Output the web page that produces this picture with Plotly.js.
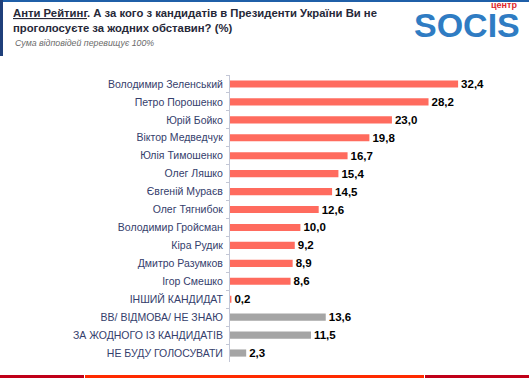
<!DOCTYPE html>
<html><head><meta charset="utf-8">
<script src="https://cdn.plot.ly/plotly-3.0.1.min.js"></script>
<style>html,body{margin:0;padding:0;background:#fff}#c{width:529px;height:378px}</style>
</head><body><div id="c"></div>
<script>
const categories = ["Володимир Зеленський","Петро Порошенко","Юрій Бойко","Віктор Медведчук","Юлія Тимошенко","Олег Ляшко","Євгеній Мураєв","Олег Тягнибок","Володимир Гройсман","Кіра Рудик","Дмитро Разумков","Ігор Смешко","ІНШИЙ КАНДИДАТ","ВВ/ ВІДМОВА/ НЕ ЗНАЮ","ЗА ЖОДНОГО ІЗ КАНДИДАТІВ","НЕ БУДУ ГОЛОСУВАТИ"];
const values = [32.4,28.2,23.0,19.8,16.7,15.4,14.5,12.6,10.0,9.2,8.9,8.6,0.2,13.6,11.5,2.3];
const isOther = [0,0,0,0,0,0,0,0,0,0,0,0,0,1,1,1];
const titleText = "<b><u>Анти Рейтинг</u>. А за кого з кандидатів в Президенти України Ви не<br>проголосуєте за жодних обставин? (%)</b>";
const subtitleText = "<i>Сума відповідей перевищує 100%</i>";

const W=529,H=378,ML=230,MR=19,MT=75,MB=16;
const PW=W-ML-MR, PH=H-MT-MB;
const px=x=>(x-ML)/PW, py=y=>(H-MB-y)/PH;

const colors = isOther.map(o=>o?'#a5a5a5':'#ff6b5e');
const labels = values.map(v=>v.toFixed(1).replace('.',','));

const trace = {
  type:'bar', orientation:'h', x:values, y:categories,
  marker:{color:colors}, text:labels, textposition:'outside', cliponaxis:false, constraintext:'none',
  textfont:{family:'Liberation Sans, Arial, sans-serif', size:11.5, color:'#000'},
  texttemplate:'<b>%{text}</b>', hoverinfo:'none'
};
const layout = {
  width:W, height:H, margin:{l:ML,r:MR,t:MT,b:MB,pad:0},
  paper_bgcolor:'#fff', plot_bgcolor:'#fff', showlegend:false, bargap:0.6,
  font:{family:'Liberation Sans, Arial, sans-serif'},
  xaxis:{range:[0,PW/7.04], visible:false, fixedrange:true},
  yaxis:{type:'category', autorange:'reversed', showline:true, linecolor:'#c3c7d6', linewidth:1,
    ticks:'outside', ticklen:3, tickcolor:'#c3c7d6', tickson:'boundaries', showgrid:false, zeroline:false,
    ticklabelstandoff:4,
    tickfont:{size:10.5, color:'#35406c', family:'Liberation Sans, Arial, sans-serif'}},
  title:{text:titleText, x:13/W, xanchor:'left', xref:'container', y:1-17/H, yanchor:'top', yref:'container',
    font:{size:11.3, color:'#262838', family:'Liberation Sans, Arial, sans-serif'}},
  annotations:[
    {text:subtitleText, xref:'paper', yref:'paper', x:px(13), y:py(43), xanchor:'left', yanchor:'middle', showarrow:false,
     font:{size:8.8, color:'#6b6b6b'}},
    {text:'<b>SOCIS</b>', xref:'paper', yref:'paper', x:px(467), y:py(25.5), xanchor:'center', yanchor:'middle', showarrow:false,
     font:{size:34, color:'#2f7cc3', family:'Liberation Sans, Arial, sans-serif'}},
    {text:'<b>центр</b>', xref:'paper', yref:'paper', x:px(519), y:py(5), xanchor:'right', yanchor:'middle', showarrow:false,
     font:{size:9, color:'#e0262b'}}
  ],
  shapes:[
    {type:'rect', xref:'paper', yref:'paper', x0:px(0), x1:px(W), y0:py(0), y1:py(2), fillcolor:'#1f5fa8', line:{width:0}},
    {type:'rect', xref:'paper', yref:'paper', x0:px(0), x1:px(3), y0:py(0), y1:py(56), fillcolor:'#1f3f7a', line:{width:0}},
    {type:'rect', xref:'paper', yref:'paper', x0:px(0), x1:px(84), y0:py(375), y1:py(378), fillcolor:'#c00018', line:{width:0}},
    {type:'rect', xref:'paper', yref:'paper', x0:px(85), x1:px(424), y0:py(375), y1:py(378), fillcolor:'#ff2a00', line:{width:0}},
    {type:'rect', xref:'paper', yref:'paper', x0:px(425), x1:px(W), y0:py(375), y1:py(378), fillcolor:'#c00018', line:{width:0}}
  ]
};
Plotly.newPlot('c',[trace],layout,{staticPlot:true,displayModeBar:false});
</script></body></html>
